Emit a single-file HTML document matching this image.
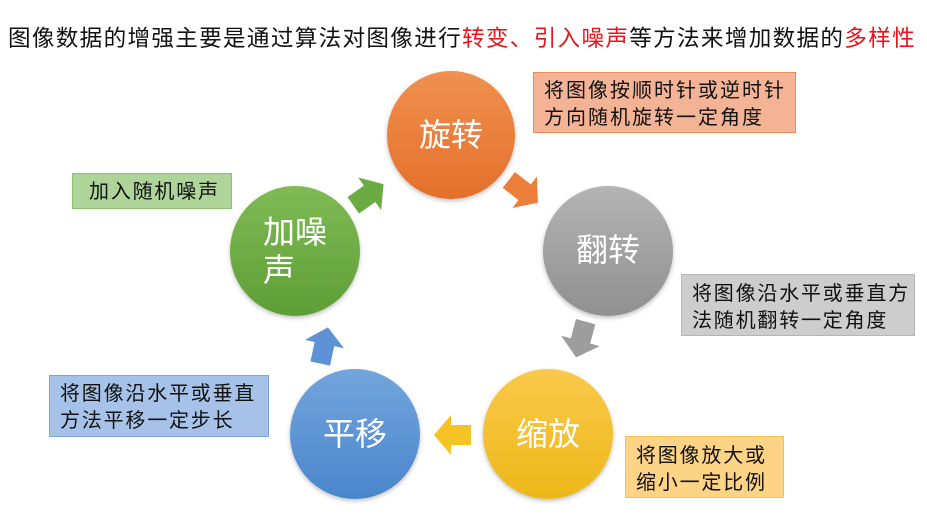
<!DOCTYPE html>
<html><head><meta charset="utf-8"><style>
html,body{margin:0;padding:0;background:#fff}
svg{display:block}
text{font-family:"Liberation Sans","Noto Sans CJK SC",sans-serif}
</style></head><body>
<svg width="927" height="518" viewBox="0 0 927 518" xmlns="http://www.w3.org/2000/svg">
<defs>
<linearGradient id="go" x1="0" y1="0" x2="0" y2="1"><stop offset="0" stop-color="#f0904f"/><stop offset="1" stop-color="#e4702a"/></linearGradient>
<linearGradient id="gg" x1="0" y1="0" x2="0" y2="1"><stop offset="0" stop-color="#b4b4b4"/><stop offset="1" stop-color="#909090"/></linearGradient>
<linearGradient id="gy" x1="0" y1="0" x2="0" y2="1"><stop offset="0" stop-color="#fbc94a"/><stop offset="1" stop-color="#ecb81a"/></linearGradient>
<linearGradient id="gb" x1="0" y1="0" x2="0" y2="1"><stop offset="0" stop-color="#73a5dc"/><stop offset="1" stop-color="#4a86cc"/></linearGradient>
<linearGradient id="gn" x1="0" y1="0" x2="0" y2="1"><stop offset="0" stop-color="#80bb55"/><stop offset="1" stop-color="#5e9e35"/></linearGradient>
<filter id="sh" x="-20%" y="-20%" width="140%" height="140%"><feDropShadow dx="0" dy="2" stdDeviation="2" flood-opacity="0.25"/></filter>
<polygon id="ar" points="-18,-10 2,-10 2,-20 19,0 2,20 2,10 -18,10"/>
</defs>

<text x="8" y="46" font-size="22.6" fill="#111" letter-spacing="1.3">图像数据的增强主要是通过算法对图像进行<tspan fill="#e8141c">转变、引入噪声</tspan>等方法来增加数据的<tspan fill="#e8141c">多样性</tspan></text>

<rect x="533.5" y="72.5" width="262" height="60" fill="#f5b396" stroke="#e88a5c"/>
<text font-size="20" fill="#111" letter-spacing="2"><tspan x="544" y="97">将图像按顺时针或逆时针</tspan><tspan x="544" y="124">方向随机旋转一定角度</tspan></text>

<rect x="681.5" y="274.5" width="233" height="61" fill="#cdcdcd" stroke="#b5b5b5"/>
<text font-size="20" fill="#111" letter-spacing="1.8"><tspan x="692" y="300">将图像沿水平或垂直方</tspan><tspan x="692" y="327">法随机翻转一定角度</tspan></text>

<rect x="625.5" y="436.5" width="158" height="61" fill="#fdd486" stroke="#f6c34e"/>
<text font-size="20" fill="#111" letter-spacing="1.8"><tspan x="636" y="462">将图像放大或</tspan><tspan x="636" y="489">缩小一定比例</tspan></text>

<rect x="49.5" y="375.5" width="219" height="61" fill="#a6c2e8" stroke="#7ea6da"/>
<text font-size="20" fill="#111" letter-spacing="1.8"><tspan x="60" y="400">将图像沿水平或垂直</tspan><tspan x="60" y="427">方法平移一定步长</tspan></text>

<rect x="72.5" y="173.5" width="159" height="35" fill="#afd49a" stroke="#8cc070"/>
<text x="89" y="198" font-size="20" fill="#111" letter-spacing="1.8">加入随机噪声</text>

<use href="#ar" transform="translate(368,195) rotate(-35)" fill="#6aab43"/>
<use href="#ar" transform="translate(523,191) rotate(38)" fill="#ec7f3c"/>
<use href="#ar" transform="translate(581,339) rotate(105)" fill="#9d9d9d"/>
<use href="#ar" transform="translate(453,435) rotate(180)" fill="#f6c325"/>
<use href="#ar" transform="translate(324,346) rotate(-78)" fill="#5d92d4"/>

<g filter="url(#sh)">
<circle cx="451" cy="135" r="64" fill="url(#go)"/>
<circle cx="608" cy="251" r="65" fill="url(#gg)"/>
<circle cx="548" cy="434" r="65" fill="url(#gy)"/>
<circle cx="355" cy="434" r="65" fill="url(#gb)"/>
<circle cx="295" cy="251" r="65" fill="url(#gn)"/>
</g>
<g fill="#fff" font-size="32" text-anchor="middle">
<text x="451" y="146">旋转</text>
<text x="608" y="261">翻转</text>
<text x="548" y="445">缩放</text>
<text x="355" y="445">平移</text>
<text x="295" y="243">加噪</text>
<text x="279" y="281">声</text>
</g>
</svg>
</body></html>
